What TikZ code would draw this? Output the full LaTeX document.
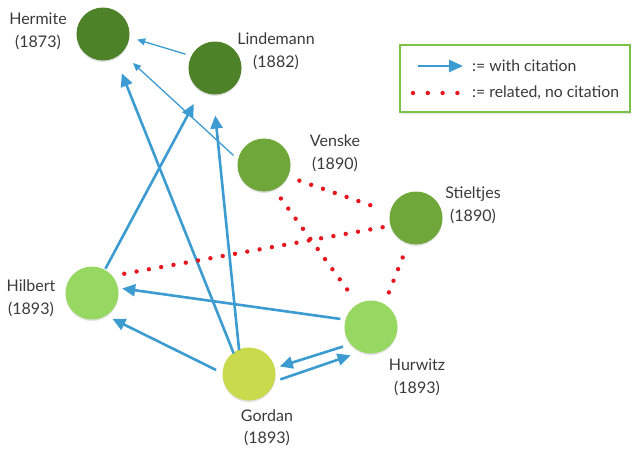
\documentclass[tikz,border=0pt]{standalone}
\usepackage{fontspec}
\setmainfont{Lato}
\usetikzlibrary{arrows.meta,shadows}
\definecolor{dkgreen}{HTML}{4E8229}
\definecolor{mdgreen}{HTML}{6FA73A}
\definecolor{ltgreen}{HTML}{97D862}
\definecolor{ylgreen}{HTML}{C9DB4C}
\definecolor{citeblue}{HTML}{3C9CD2}
\definecolor{relred}{HTML}{E5161E}
\definecolor{legendgreen}{HTML}{7CC246}
\definecolor{txtgray}{HTML}{3A3A3A}
\tikzset{
  person/.style={circle,minimum size=53pt,inner sep=0pt,draw=none,
    drop shadow={opacity=0.25,shadow xshift=0pt,shadow yshift=-1.5pt}},
  lbl/.style={align=center,text=txtgray,font=\fontsize{16}{23}\selectfont},
  legtxt/.style={text=txtgray,font=\fontsize{15.8}{20}\selectfont,inner sep=0pt},
  cite/.style={citeblue,line width=2.6pt,-{Triangle[length=13pt,width=12pt]}},
  citethin/.style={citeblue,line width=1.3pt,-{Triangle[length=8pt,width=7pt]}},
  related/.style={relred,line width=4.4pt,line cap=round,dash pattern=on 0pt off 12.5pt},
}
\begin{document}
\begin{tikzpicture}[x=1pt,y=-1pt]
\useasboundingbox (0,0) rectangle (636,448);
% nodes
\node[person,fill=dkgreen] (hermite) at (103,34) {};
\node[person,fill=dkgreen] (lindemann) at (215,68) {};
\node[person,fill=mdgreen] (venske) at (264,165) {};
\node[person,fill=mdgreen] (stieltjes) at (416,218) {};
\node[person,fill=ltgreen] (hilbert) at (92,293) {};
\node[person,fill=ltgreen] (hurwitz) at (371,327) {};
\node[person,fill=ylgreen] (gordan) at (249,374) {};
% labels
\node[lbl] (lhermite) at (38,31) {Hermite\\(1873)};
\node[lbl] (llindemann) at (276,51) {Lindemann\\(1882)};
\node[lbl] (lvenske) at (335,153) {Venske\\(1890)};
\node[lbl] (lstieltjes) at (473,205) {Stieltjes\\(1890)};
\node[lbl] (lhilbert) at (31,298) {Hilbert\\(1893)};
\node[lbl] (lhurwitz) at (417,377) {Hurwitz\\(1893)};
\node[lbl,font=\fontsize{16}{22}\selectfont] (lgordan) at (267,428) {Gordan\\(1893)};
% citations
\draw[citethin,shorten <=6pt,shorten >=8pt] (lindemann.153) -- (hermite.-7);
\draw[citethin,shorten <=6pt,shorten >=15pt] (venske.168) -- (hermite.-45);
\draw[cite,shorten <=-1pt,shorten >=17pt] (gordan.126) -- (hermite.-62);
\draw[cite,shorten <=-1pt,shorten >=21pt] (gordan.112) -- (lindemann.-94);
\draw[cite,shorten <=1pt,shorten >=15pt] (hilbert.61) -- (lindemann.-122);
\draw[cite,shorten <=5pt,shorten >=4pt] (hurwitz.164) -- (hilbert.11);
\draw[cite,shorten <=7pt,shorten >=7pt] (gordan.178) -- (hilbert.-58);
\draw[cite,shorten <=8pt,shorten >=5pt] (hurwitz.-140) -- (gordan.13);
\draw[cite,shorten <=6pt,shorten >=11pt] (gordan.-16) -- (hurwitz.-112);
% related
\draw[related,shorten <=12pt,shorten >=7pt] (hilbert.40) -- (stieltjes.-163);
\draw[related,shorten <=11pt,shorten >=7pt] (venske.-67) -- (hurwitz.120);
\draw[related,shorten <=12pt,shorten >=12pt] (venske.-26) -- (stieltjes.167);
\draw[related,shorten <=15pt,shorten >=7pt] (stieltjes.-107) -- (hurwitz.60);
% legend
\node[draw=legendgreen,line width=1.4pt,fill=white,minimum width=230pt,minimum height=67pt,
  drop shadow={opacity=0.2,shadow xshift=1pt,shadow yshift=-1.5pt}] (legend) at (515,78.5) {};
\coordinate (a1) at (418,66);
\coordinate (a2) at (463,66);
\coordinate (d1) at (413,93);
\coordinate (d2) at (458,93);
\draw[cite,-{Triangle[length=14pt,width=12pt]}] (a1) -- (a2);
\draw[related,dash pattern=on 0pt off 14.8pt] (d1) -- (d2);
\node[legtxt,anchor=west] (lcite) at (472,66) {:= with citation};
\node[legtxt,anchor=west] (lrel) at (472,93) {:= related, no citation};
\end{tikzpicture}
\end{document}
